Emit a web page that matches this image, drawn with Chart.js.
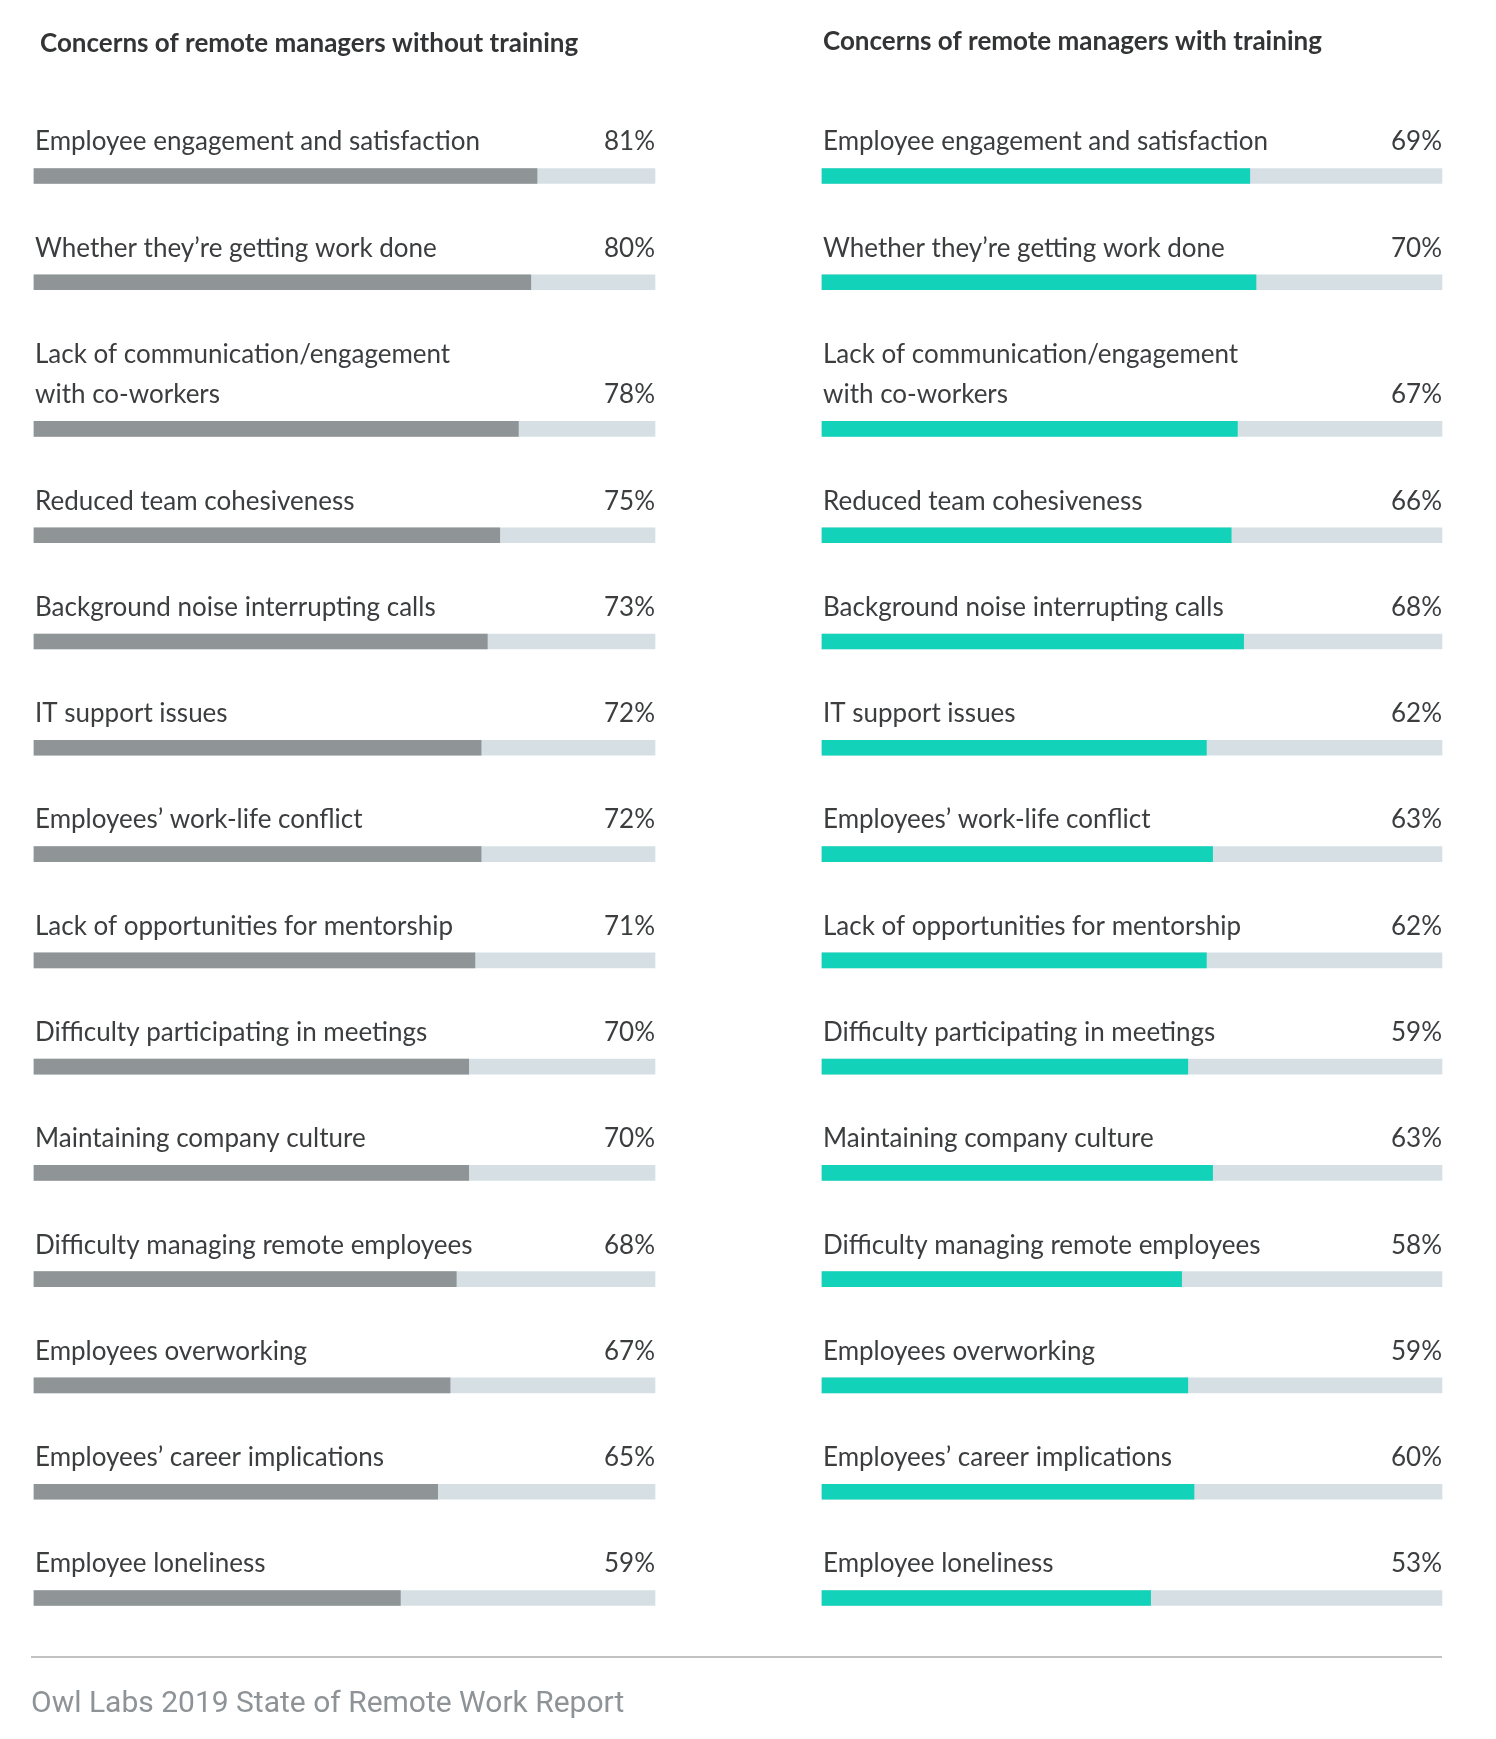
<!DOCTYPE html>
<html>
<head>
<meta charset="utf-8">
<script src="https://cdn.jsdelivr.net/npm/chart.js@4.4.1/dist/chart.umd.min.js"></script>
<style>
  html, body { margin: 0; padding: 0; background: #ffffff; }
  body { width: 1496px; height: 1739px; position: relative; overflow: hidden; }
  #leftWrap { position: absolute; left: 0; top: 0; width: 748px; height: 1739px; }
  #rightWrap { position: absolute; left: 748px; top: 0; width: 748px; height: 1739px; }
  #sep { position: absolute; left: 31px; top: 1656px; width: 1411px; height: 0; border-top: 2px solid #c2c2c2; }
  #footer { position: absolute; left: 31px; top: 1683px; font-family: Roboto, sans-serif; font-size: 30px; line-height: 38px; color: #8d9396; white-space: nowrap; }
</style>
</head>
<body>
<div id="leftWrap"><canvas id="left" width="748" height="1739"></canvas></div>
<div id="rightWrap"><canvas id="right" width="748" height="1739"></canvas></div>
<div id="sep"></div>
<div id="footer">Owl Labs 2019 State of Remote Work Report</div>
<script>
// ---- data ----
const categories = [
  "Employee engagement and satisfaction",
  "Whether they\u2019re getting work done",
  ["Lack of communication/engagement", "with co-workers"],
  "Reduced team cohesiveness",
  "Background noise interrupting calls",
  "IT support issues",
  "Employees\u2019 work-life conflict",
  "Lack of opportunities for mentorship",
  "Difficulty participating in meetings",
  "Maintaining company culture",
  "Difficulty managing remote employees",
  "Employees overworking",
  "Employees\u2019 career implications",
  "Employee loneliness"
];
const withoutTraining = [81, 80, 78, 75, 73, 72, 72, 71, 70, 70, 68, 67, 65, 59];
const withTraining    = [69, 70, 67, 66, 68, 62, 63, 62, 59, 63, 58, 59, 60, 53];
const titleWithout = "Concerns of remote managers without training";
const titleWith = "Concerns of remote managers with training";

// ---- layout helpers (slot index with room for multi-line labels) ----
const EXTRA_LINE = 0.38;
const slots = [];
(function () {
  let extra = 0;
  categories.forEach((c, i) => {
    const lines = Array.isArray(c) ? c.length : 1;
    extra += (lines - 1);
    slots.push(i + EXTRA_LINE * extra);
  });
})();

const TEXT_COLOR = '#3b3d3f';
const LABEL_FONT = '400 26px Lato, "Open Sans", sans-serif';
const TITLE_FONT = '700 26px Lato, "Open Sans", sans-serif';

const labelPlugin = {
  id: 'rowLabels',
  afterDatasetsDraw(chart, args, opts) {
    const ctx = chart.ctx;
    const meta = chart.getDatasetMeta(0);
    const values = chart.data.datasets[0].data;
    const xs = chart.scales.x;
    ctx.save();
    // title
    ctx.font = TITLE_FONT;
    ctx.fillStyle = '#333435';
    ctx.textBaseline = 'middle';
    ctx.textAlign = 'left';
    ctx.fillText(opts.title, xs.left + opts.titleDx, opts.titleY);
    // row labels and values
    ctx.font = LABEL_FONT;
    ctx.fillStyle = TEXT_COLOR;
    meta.data.forEach((el, i) => {
      const lbl = categories[i];
      const lines = Array.isArray(lbl) ? lbl : [lbl];
      const lastY = el.y - 34;
      ctx.textAlign = 'left';
      lines.forEach((ln, k) => {
        const y = lastY - (lines.length - 1 - k) * 40;
        ctx.fillText(ln, xs.left + 1, y);
      });
      ctx.textAlign = 'right';
      ctx.fillText(values[i].x + '%', xs.right, lastY);
    });
    ctx.restore();
  }
};

function makeChart(id, values, color, padL, padR, title, titleDx, titleY) {
  const valueData = values.map((v, i) => ({ x: v, y: slots[i] }));
  const trackData = values.map((v, i) => ({ x: 100, y: slots[i] }));
  return new Chart(document.getElementById(id), {
    type: 'bar',
    data: {
      datasets: [
        { data: valueData, backgroundColor: color, borderWidth: 0, grouped: false, barThickness: 15, clip: false },
        { data: trackData, backgroundColor: '#d6e0e4', borderWidth: 0, grouped: false, barThickness: 15, clip: false }
      ]
    },
    options: {
      indexAxis: 'y',
      responsive: false,
      animation: false,
      devicePixelRatio: 1,
      layout: { padding: { left: padL, right: padR, top: 176, bottom: 141 } },
      scales: {
        x: { type: 'linear', min: 0, max: 100, display: false, offset: false },
        y: { type: 'linear', reverse: true, min: 0, max: slots[slots.length - 1], display: false, offset: false }
      },
      plugins: {
        legend: { display: false },
        tooltip: { enabled: false },
        title: { display: false },
        rowLabels: { title: title, titleDx: titleDx, titleY: titleY }
      }
    },
    plugins: [labelPlugin]
  });
}

makeChart('left', withoutTraining, '#8f9496', 34, 748 - 655, titleWithout, 6, 44);
makeChart('right', withTraining, '#12d2b9', 822 - 748, 748 - (1442 - 748), titleWith, 1, 42);
</script>
</body>
</html>
